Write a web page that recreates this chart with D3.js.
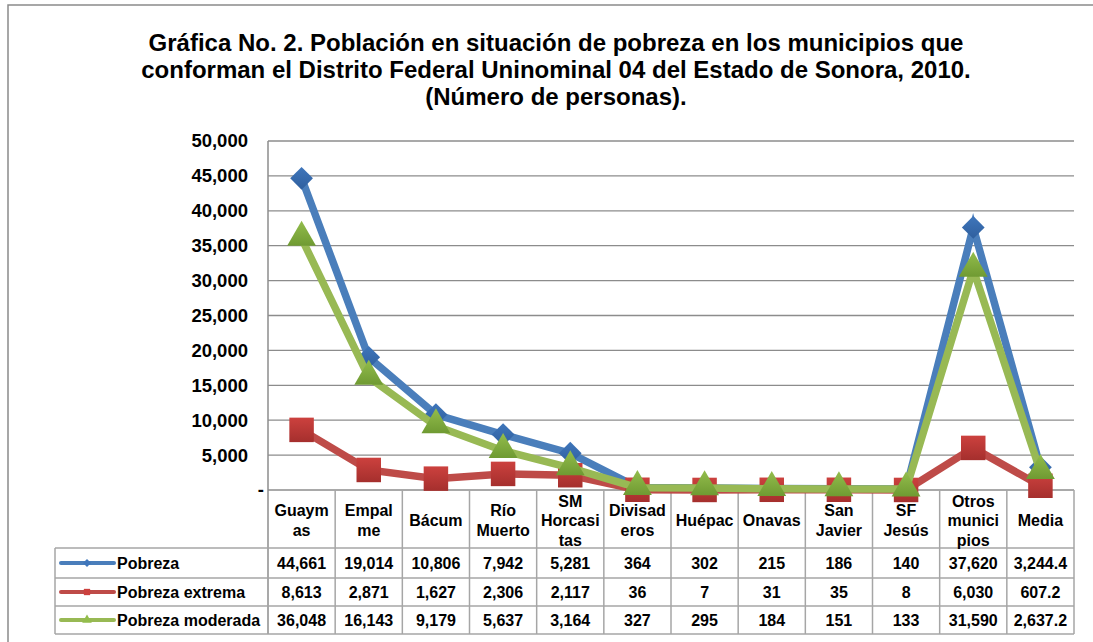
<!DOCTYPE html>
<html>
<head>
<meta charset="utf-8">
<script src="https://cdn.jsdelivr.net/npm/d3@7"></script>
<style>
  body { margin: 0; background: #fff; }
  svg { font-family: "Liberation Sans", Arial, sans-serif; font-weight: bold; }
</style>
</head>
<body>
<svg id="chart" width="1093" height="642"></svg>
<script>
const titleLines = [
  'Gráfica No. 2. Población en situación de pobreza en los municipios que',
  'conforman el Distrito Federal Uninominal 04 del Estado de Sonora, 2010.',
  '(Número de personas).'
];
const categories = ['Guaym\nas', 'Empal\nme', 'Bácum', 'Río\nMuerto', 'SM\nHorcasi\ntas', 'Divisad\neros',
  'Huépac', 'Onavas', 'San\nJavier', 'SF\nJesús', 'Otros\nmunici\npios', 'Media'];
const pobreza = [44661, 19014, 10806, 7942, 5281, 364, 302, 215, 186, 140, 37620, 3244.4];
const pobrezaExtrema = [8613, 2871, 1627, 2306, 2117, 36, 7, 31, 35, 8, 6030, 607.2];
const pobrezaModerada = [36048, 16143, 9179, 5637, 3164, 327, 295, 184, 151, 133, 31590, 2637.2];
const yTicks = [0, 5000, 10000, 15000, 20000, 25000, 30000, 35000, 40000, 45000, 50000];

const series = [
  { name: 'Pobreza', values: pobreza, line: '#4a7ebb', mark: '#3f76bb', dark: '#2f5f9e', shape: 'diamond' },
  { name: 'Pobreza extrema', values: pobrezaExtrema, line: '#be4b48', mark: '#cc413e', dark: '#a52f2d', shape: 'square' },
  { name: 'Pobreza moderada', values: pobrezaModerada, line: '#98b954', mark: '#93bd4c', dark: '#6f9a32', shape: 'triangle' }
];

const svg = d3.select('#chart');
const plotLeft = 268, plotRight = 1074, plotTop = 141, plotBottom = 490;
const grid = '#8c8c8c', tableLine = '#a6a6a6';

// outer frame
svg.append('rect').attr('x', 8).attr('y', 5).attr('width', 1100).attr('height', 660)
  .attr('fill', 'none').attr('stroke', '#8a8a8a').attr('stroke-width', 1.5);

// title
svg.append('g').selectAll('text').data(titleLines).enter().append('text')
  .attr('x', 556).attr('y', (d, i) => 51 + i * 27)
  .attr('text-anchor', 'middle').attr('font-size', 24).attr('fill', '#000')
  .text(d => d);

const x = d3.scaleBand().domain(d3.range(categories.length)).range([plotLeft, plotRight]);
const y = d3.scaleLinear().domain([0, 50000]).range([plotBottom, plotTop]);

// gridlines
svg.append('g').selectAll('line').data(yTicks).enter().append('line')
  .attr('x1', plotLeft).attr('x2', plotRight)
  .attr('y1', d => y(d)).attr('y2', d => y(d))
  .attr('stroke', grid).attr('stroke-width', 1.3);

// y axis labels
const yAxis = d3.axisLeft(y).tickValues(yTicks).tickSize(0).tickPadding(20)
  .tickFormat(d => d === 0 ? '-' : d3.format(',')(d));
const ya = svg.append('g').attr('transform', `translate(${plotLeft},0)`).call(yAxis);
ya.select('.domain').remove();
ya.selectAll('text').attr('font-size', 18.5).attr('font-family', null).attr('font-weight', 'bold').attr('fill', '#000')
  .attr('dx', d => d === 0 ? 16 : 0);

// table rows geometry
const headerTop = plotBottom, headerBottom = 548;
const rowEdges = [548, 578, 606, 634];
const legendLeft = 55;

function symbolOf(shape) {
  return shape === 'diamond' ? d3.symbolDiamond2 : shape === 'square' ? d3.symbolSquare : d3.symbolTriangle;
}

const table = svg.append('g');
// vertical lines of category columns
const colEdges = d3.range(categories.length + 1).map(i => i < categories.length ? x(i) : plotRight);
table.selectAll('line.v').data(colEdges).enter().append('line')
  .attr('x1', d => d).attr('x2', d => d)
  .attr('y1', (d, i) => i === 0 ? plotTop : headerTop).attr('y2', rowEdges[3])
  .attr('stroke', (d, i) => i === 0 ? grid : tableLine).attr('stroke-width', 1.5);
// legend column left edge
table.append('line').attr('x1', legendLeft).attr('x2', legendLeft)
  .attr('y1', rowEdges[0]).attr('y2', rowEdges[3]).attr('stroke', tableLine).attr('stroke-width', 1.5);
// horizontal lines
table.selectAll('line.h').data(rowEdges).enter().append('line')
  .attr('x1', legendLeft).attr('x2', plotRight)
  .attr('y1', d => d).attr('y2', d => d)
  .attr('stroke', tableLine).attr('stroke-width', 1.5);

// header labels
table.selectAll('text.h').data(categories).enter().append('text')
  .attr('text-anchor', 'middle').attr('font-size', 16).attr('fill', '#000')
  .each(function (d, i) {
    const parts = d.split('\n');
    const cy = (headerTop + headerBottom) / 2 + 1;
    const lh = 19.5;
    const y0 = cy - (parts.length - 1) * lh / 2 + 6;
    d3.select(this).selectAll('tspan').data(parts).enter().append('tspan')
      .attr('x', x(i) + x.bandwidth() / 2)
      .attr('y', (p, j) => y0 + j * lh)
      .text(p => p);
  });

// value cells + legend keys
series.forEach((s, r) => {
  const cy = (rowEdges[r] + rowEdges[r + 1]) / 2 + 6;
  table.append('g').selectAll('text').data(s.values).enter().append('text')
    .attr('x', (d, i) => x(i) + x.bandwidth() / 2).attr('y', cy)
    .attr('text-anchor', 'middle').attr('font-size', 16).attr('fill', '#000')
    .text((d, i) => i === s.values.length - 1 ? d3.format(',.1f')(d) : d3.format(',')(d));
  table.append('line').attr('x1', 61).attr('x2', 114).attr('y1', cy - 6).attr('y2', cy - 6)
    .attr('stroke', s.line).attr('stroke-width', 4).attr('stroke-linecap', 'round');
  table.append('path').attr('d', d3.symbol(symbolOf(s.shape), 40)())
    .attr('transform', `translate(87,${cy - 6})`).attr('fill', s.mark);
  table.append('text').attr('x', 117).attr('y', cy).attr('font-size', 16).attr('fill', '#000').text(s.name);
});

// gradients for markers
const defs = svg.append('defs');
series.forEach((s, i) => {
  const g = defs.append('linearGradient').attr('id', 'g' + i).attr('x1', 0).attr('y1', 0).attr('x2', 0).attr('y2', 1);
  g.append('stop').attr('offset', '0%').attr('stop-color', s.mark);
  g.append('stop').attr('offset', '100%').attr('stop-color', s.dark);
});

// series lines + markers
const cx = i => x(i) + x.bandwidth() / 2;
const sizes = { diamond: 330, square: 600, triangle: 360 };
series.forEach((s, si) => {
  const line = d3.line().x((d, i) => cx(i)).y(d => y(d));
  svg.append('path').datum(s.values).attr('d', line)
    .attr('fill', 'none').attr('stroke', s.line).attr('stroke-width', 7.5).attr('stroke-linejoin', 'miter');
  svg.append('g').selectAll('path').data(s.values).enter().append('path')
    .attr('d', d3.symbol(symbolOf(s.shape), sizes[s.shape])())
    .attr('transform', (d, i) => `translate(${cx(i)},${y(d) + (s.shape === 'triangle' ? -1 : 0)})`)
    .attr('fill', `url(#g${si})`);
});
</script>
</body>
</html>
